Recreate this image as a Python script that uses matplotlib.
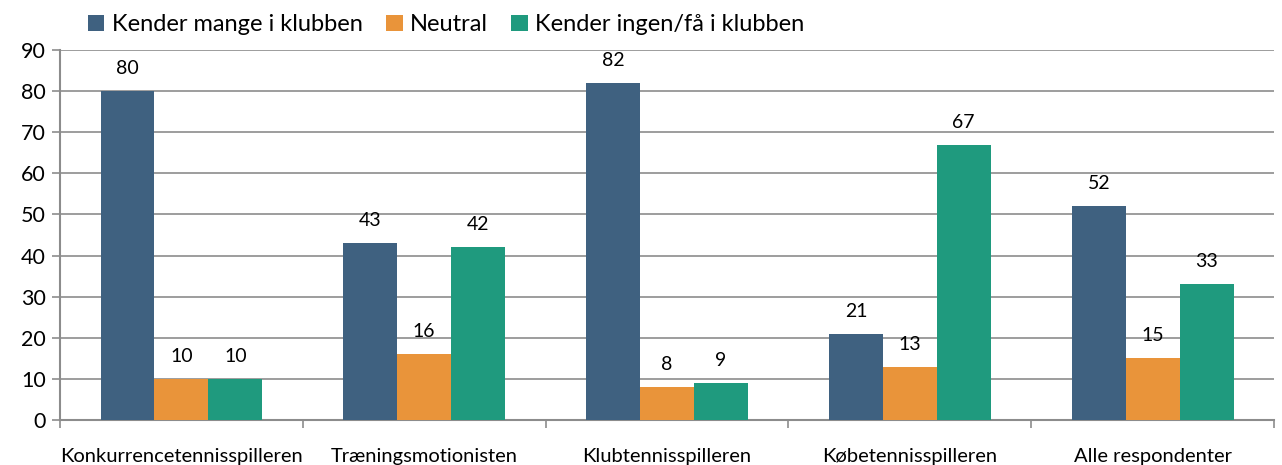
import numpy as np
import matplotlib.pyplot as plt

plt.rcParams['font.family'] = ['Lato', 'DejaVu Sans']

categories = ['Konkurrencetennisspilleren', 'Træningsmotionisten', 'Klubtennisspilleren',
              'Købetennisspilleren', 'Alle respondenter']
series_names = ['Kender mange i klubben', 'Neutral', 'Kender ingen/få i klubben']
mange = [80, 43, 82, 21, 52]
neutral = [10, 16, 8, 13, 15]
ingen = [10, 42, 9, 67, 33]
colors = ['#3F6180', '#E9943A', '#1F9A7E']

fig = plt.figure(figsize=(12.82, 4.65), dpi=100)
ax = fig.add_axes([0.0468, 0.0968, 0.947, 0.7957])

x = np.arange(len(categories))
w = 0.222
for i, (vals, name, c) in enumerate(zip([mange, neutral, ingen], series_names, colors)):
    pos = x + (i - 1) * w
    bars = ax.bar(pos, vals, width=w, color=c, label=name, zorder=3)
    for b, v in zip(bars, vals):
        ax.annotate(str(v), (b.get_x() + b.get_width() / 2, v), xytext=(0, 10),
                    textcoords='offset points', ha='center', va='bottom', fontsize=14)

ax.set_xlim(-0.5, len(categories) - 0.5)
ax.set_ylim(0, 90)
ax.set_yticks(range(0, 91, 10))
ax.tick_params(axis='y', labelsize=15.5, length=6, color='#8c8c8c', width=1.2, pad=4)
ax.set_xticks(x)
ax.set_xticklabels(categories, fontsize=14.5)
ax.tick_params(axis='x', length=0, pad=20)
ax.set_xticks(np.arange(-0.5, len(categories)), minor=True)
ax.tick_params(axis='x', which='minor', length=6, color='#8c8c8c', width=1.2)
ax.grid(axis='y', color='#8c8c8c', linewidth=1.2, zorder=0)
for s in ['top', 'right']:
    ax.spines[s].set_visible(False)
for s in ['left', 'bottom']:
    ax.spines[s].set_color('#8c8c8c')
    ax.spines[s].set_linewidth(1.5)

fig.legend(loc='upper left', bbox_to_anchor=(0.052, 1.015), ncol=3, frameon=False,
           fontsize=17, handlelength=0.7, handleheight=0.7, handletextpad=0.3,
           columnspacing=1.0)

plt.savefig('out.png')
